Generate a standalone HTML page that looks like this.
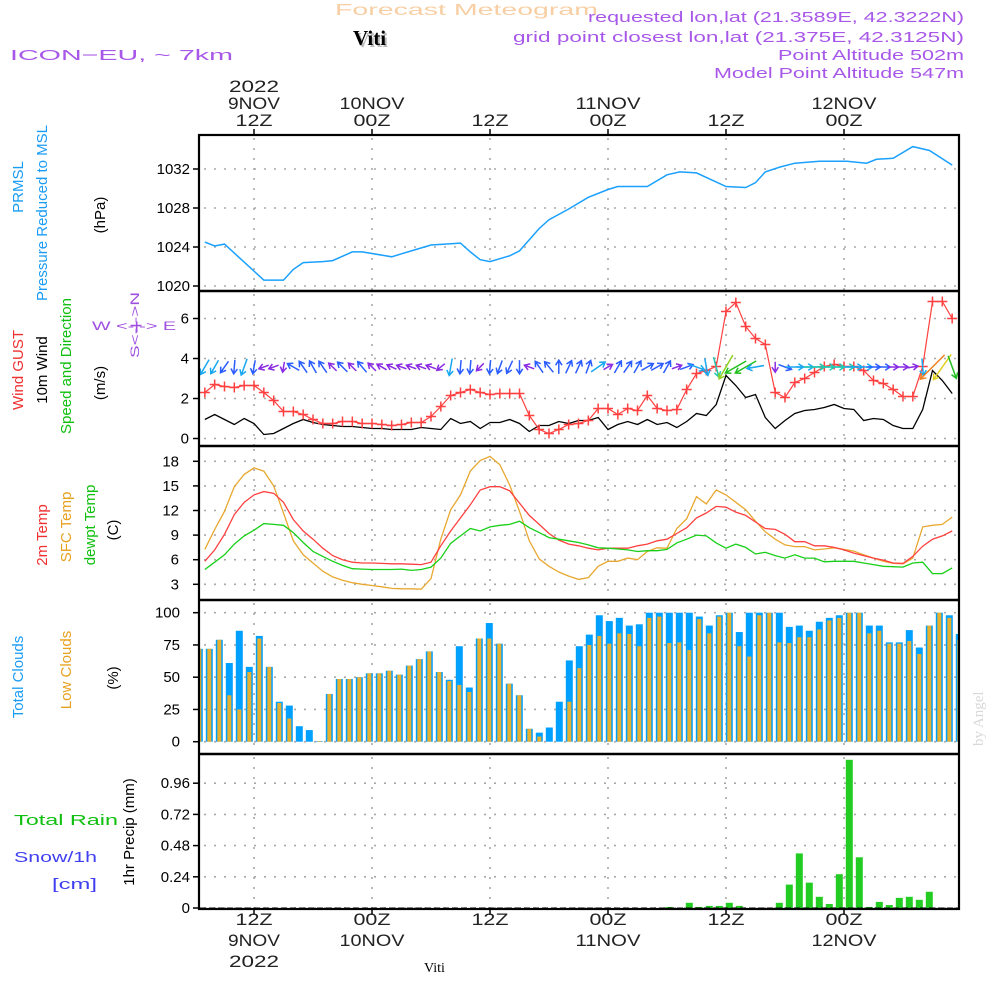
<!DOCTYPE html>
<html><head><meta charset="utf-8"><title>Viti Meteogram</title>
<style>
html,body{margin:0;padding:0;background:#fff;}
svg{display:block;font-family:"Liberation Sans",sans-serif;}
</style></head>
<body>
<svg id="chart" width="1000" height="1000" viewBox="0 0 1000 1000" xmlns="http://www.w3.org/2000/svg">
<defs>
<clipPath id="clipAll"><rect x="200" y="136" width="758" height="772"/></clipPath>
</defs>
<rect x="0" y="0" width="1000" height="1000" fill="#fff"/>
<text x="335" y="15" font-size="16" fill="#f8cfa4" textLength="263" lengthAdjust="spacingAndGlyphs">Forecast Meteogram</text>
<text x="355" y="47" font-family="Liberation Serif, serif" font-weight="bold" font-size="21" fill="#bbb">Viti</text>
<text x="353" y="45" font-family="Liberation Serif, serif" font-weight="bold" font-size="21" fill="#000">Viti</text>
<text x="10" y="60" font-size="15" fill="#a858e8" textLength="223" lengthAdjust="spacingAndGlyphs">ICON−EU, ~ 7km</text>
<g font-size="14.5" fill="#a858e8" text-anchor="end">
<text x="964" y="22" textLength="376" lengthAdjust="spacingAndGlyphs">requested lon,lat (21.3589E, 42.3222N)</text>
<text x="964" y="42" textLength="451" lengthAdjust="spacingAndGlyphs">grid point closest lon,lat (21.375E, 42.3125N)</text>
<text x="964" y="60" textLength="186" lengthAdjust="spacingAndGlyphs">Point Altitude 502m</text>
<text x="964" y="78" textLength="250" lengthAdjust="spacingAndGlyphs">Model Point Altitude 547m</text>
</g>
<g font-size="15" text-anchor="middle">
<text transform="translate(23,187) rotate(-90)" fill="#1a9cf5">PRMSL</text>
<text transform="translate(47,213) rotate(-90)" fill="#1a9cf5">Pressure Reduced to MSL</text>
<text transform="translate(105,215) rotate(-90)" fill="#000">(hPa)</text>
<text transform="translate(23,370) rotate(-90)" fill="#f03030">Wind GUST</text>
<text transform="translate(47,370) rotate(-90)" fill="#000">10m Wind</text>
<text transform="translate(71,366) rotate(-90)" fill="#10c010">Speed and Direction</text>
<text transform="translate(105,383) rotate(-90)" fill="#000">(m/s)</text>
<text transform="translate(47,535) rotate(-90)" fill="#f03030">2m Temp</text>
<text transform="translate(71,527) rotate(-90)" fill="#e8a020">SFC Temp</text>
<text transform="translate(95,525) rotate(-90)" fill="#10c010">dewpt Temp</text>
<text transform="translate(118,530) rotate(-90)" fill="#000">(C)</text>
<text transform="translate(23,677) rotate(-90)" fill="#1a9cf5">Total Clouds</text>
<text transform="translate(71,670) rotate(-90)" fill="#e8a020">Low Clouds</text>
<text transform="translate(118,678) rotate(-90)" fill="#000">(%)</text>
<text transform="translate(134,832) rotate(-90)" fill="#000">1hr Precip (mm)</text>
</g>
<g font-size="15">
<text x="14" y="825" fill="#10c010" textLength="104" lengthAdjust="spacingAndGlyphs">Total  Rain</text>
<text x="14" y="862" fill="#4040f0" textLength="83" lengthAdjust="spacingAndGlyphs">Snow/1h</text>
<text x="52" y="889" fill="#4040f0" textLength="45" lengthAdjust="spacingAndGlyphs">[cm]</text>
</g>
<g font-size="12" fill="#a050e0">
<text x="92" y="330" textLength="84" lengthAdjust="spacingAndGlyphs">W &lt;-|-&gt; E</text>
<text transform="translate(139,358) rotate(-90)" textLength="66" lengthAdjust="spacingAndGlyphs">S&lt;-|-&gt;N</text>
</g>
<text transform="translate(983,746) rotate(-90)" font-family="Liberation Serif, serif" font-size="15" fill="#d8d8d8">by Angel</text>
<text x="424" y="972" font-family="Liberation Serif, serif" font-size="14" fill="#000">Viti</text>
<g id="grid"></g>
<g id="marks" clip-path="url(#clipAll)"></g>
<g id="arrows"></g>
<g id="axes"></g>
</svg>
<script>
const presHours = [7,8,9,13,15,16,17,19,20,22,23,26,27,28,30,33,34,35,36,38,39,41,42,44,46,48,49,52,54,55.3,57,60,62,63,64,65.5,67,69.5,72.3,74.3,75.3,77,79,80.7,83];
const presVals = [1024.5,1024.1,1024.3,1020.6,1020.6,1021.7,1022.4,1022.5,1022.6,1023.5,1023.5,1023.0,1023.3,1023.6,1024.2,1024.4,1023.5,1022.7,1022.5,1023.1,1023.6,1025.9,1026.8,1027.9,1029.1,1029.9,1030.2,1030.2,1031.4,1031.7,1031.6,1030.2,1030.1,1030.6,1031.7,1032.2,1032.6,1032.8,1032.8,1032.6,1033.0,1033.1,1034.3,1033.9,1032.4];
const startHour = 7;
const gustVals = [2.3,2.7,2.6,2.55,2.65,2.65,2.3,1.9,1.35,1.35,1.2,0.95,0.75,0.75,0.85,0.85,0.75,0.75,0.7,0.65,0.7,0.8,0.8,1.1,1.6,2.15,2.3,2.45,2.3,2.2,2.25,2.25,2.25,1.15,0.45,0.25,0.45,0.7,0.75,0.9,1.5,1.5,1.2,1.5,1.4,2.15,1.5,1.4,1.45,2.45,3.25,3.4,3.6,6.35,6.8,5.6,5.0,4.7,2.3,2.05,2.8,3.0,3.3,3.6,3.7,3.6,3.6,3.4,2.9,2.75,2.45,2.1,2.1,3.6,6.85,6.85,6.0];
const windVals = [0.95,1.2,0.95,0.7,1.0,0.75,0.2,0.25,0.5,0.75,0.95,0.8,0.7,0.65,0.6,0.6,0.55,0.5,0.5,0.45,0.45,0.45,0.55,0.5,0.45,1.0,0.75,0.85,0.5,0.8,0.8,0.95,0.75,0.35,0.65,0.65,0.85,0.75,0.9,0.9,1.05,0.45,0.7,0.85,0.7,0.95,0.7,0.8,0.55,0.85,1.25,1.15,1.7,3.15,2.65,2.05,2.2,1.05,0.5,0.9,1.25,1.4,1.45,1.55,1.7,1.5,1.45,0.9,1.0,0.95,0.65,0.5,0.5,1.45,3.4,2.9,2.25];
const windDirs = [240,240,235,265,250,260,200,200,260,150,125,120,125,135,135,135,130,135,150,155,160,160,160,160,220,260,265,265,225,265,250,245,270,160,125,130,90,65,65,70,35,30,60,55,60,30,30,60,20,20,-20,-80,-75,240,210,210,190,0,270,-20,0,0,0,0,0,0,0,0,0,0,0,0,10,-85,225,235,-70];
const windClass = [3,2.5,2,2,3,2,1,1,1,2,2,2,2,1.2,2,1.2,2,1.2,1.2,1,1,1,1,1,1,3,2,2,1,2,2,2,2,1,2,2,2,2,2,2,3,1,2,2,2,2,2,2,1,2,3,3,4,6,5,5,3,0,1,2,3,3,4,4,4,4,3,3,2,2,1,1,1,3,8,7,5];
const t2mVals = [5.8,7.2,9.1,11.5,13.0,13.9,14.3,14.1,13.0,10.9,9.5,8.5,7.4,6.5,6.0,5.7,5.6,5.6,5.55,5.5,5.5,5.45,5.4,5.7,7.7,9.5,11.1,12.7,14.5,14.9,14.9,14.4,12.9,11.4,10.3,9.2,8.4,7.9,7.7,7.4,7.2,7.4,7.4,7.4,7.7,7.9,8.3,8.5,9.2,9.9,11.1,11.7,12.5,12.4,11.8,11.4,10.6,9.8,9.7,9.1,8.2,8.2,7.7,7.7,7.5,7.2,6.8,6.5,6.2,5.95,5.6,5.55,6.4,7.65,8.5,8.9,9.5];
const sfcVals = [7.25,9.7,11.9,14.9,16.4,17.2,16.8,15.0,11.7,8.3,6.6,5.6,4.6,3.9,3.5,3.2,3.0,2.85,2.7,2.5,2.45,2.45,2.4,3.7,8.5,12.1,13.9,16.8,18.1,18.6,17.6,15.1,11.9,8.3,6.1,5.2,4.5,4.0,3.6,3.8,5.2,5.8,5.8,6.2,6.0,7.0,7.45,7.4,9.8,11.0,13.7,12.8,14.5,13.9,13.0,12.1,10.7,9.4,8.5,7.8,7.6,7.6,7.2,7.3,7.45,7.25,7.05,6.6,6.2,5.8,5.55,5.5,6.2,10.0,10.2,10.3,11.2];
const dewVals = [4.8,5.7,6.6,7.9,8.9,9.6,10.4,10.3,10.2,9.3,8.1,7.0,6.4,5.8,5.3,4.9,4.85,4.8,4.8,4.8,4.85,4.7,4.8,5.1,6.2,8.0,8.9,9.8,9.5,10.0,10.2,10.3,10.7,9.9,9.3,8.7,8.5,8.3,8.1,7.8,7.45,7.4,7.3,7.2,7.0,7.1,7.1,7.25,8.05,8.5,9.0,8.9,8.05,7.4,7.9,7.5,6.7,6.9,6.5,6.2,6.6,6.2,6.2,5.75,5.8,5.8,5.8,5.6,5.4,5.2,5.15,5.1,5.6,5.7,4.3,4.3,5.0];
const totalCloud = [72,72,79,61,86,58,82,58,31,28,12,9,0.5,37,48.6,48.6,50,53,53,55,52,59,64,70,54,48,74,42,80,92,76,45,36,10,7,11,31,63,74,83,98,93.5,96,90,91,100,100,100,100,100,97,90,98,100,85,100,100,100,100,89,90,86,93,96,98,100,100,90,90,77,77,86.5,73,90,100,98,83.5];
const lowCloud = [72,72,79,36,25,54,80,58,30,18,0,0,0.5,37,48.6,48.6,50,53,53,55,52,59,64,70,54,47,44,38.5,80,80,76,45,36,10,4,0,0,31,57,75,82,76,84,83.5,74,96,97,76.5,77,71,95,84,97,100,74,66,98,100,77,76.5,81,81,87,94,96,100,100,84,86,76,76,78,68,90,100,96,79];
const precipVals = [0,0,0,0,0,0,0,0,0,0,0,0,0,0,0,0,0,0,0,0,0,0,0,0,0,0,0,0,0,0,0,0,0,0,0,0,0,0,0,0,0,0,0,0,0,0,0,0.008,0,0.04,0.008,0.016,0.016,0.04,0.016,0,0,0,0.04,0.18,0.42,0.195,0.086,0.031,0.26,1.14,0.39,0.008,0.047,0.023,0.078,0.086,0.063,0.125,0,0,0];
const presTicks = [1020,1024,1028,1032];
const windTicks = [0,2,4,6];
const tempTicks = [3,6,9,12,15,18];
const cloudTicks = [0,25,50,75,100];
const precipTicks = [0,0.24,0.48,0.72,0.96];
const precipTickLabels = ["0","0.24","0.48","0.72","0.96"];
const timeHours = [12,24,36,48,60,72];
const timeTopHour = ["12Z","00Z","12Z","00Z","12Z","00Z"];
const timeDay = ["9NOV","10NOV","","11NOV","","12NOV"];

const X = h => 254 + (h - 12) * 9.8333;
const barX = i => 199.3 + i * 10;
const yP = v => 286 - (v - 1020) * 9.75;
const yW = v => 438.5 - v * 20.0;
const yT = v => 584.3 - (v - 3) * 8.2;
const yC = v => 741.7 - v * 1.29;
const yR = v => 908 - v * 130;
const NS = "http://www.w3.org/2000/svg";
function mk(parent, tag, attrs) {
  const e = document.createElementNS(NS, tag);
  for (const k in attrs) e.setAttribute(k, attrs[k]);
  parent.appendChild(e);
  return e;
}
const grid = document.getElementById('grid');
const marks = document.getElementById('marks');
const arrowsG = document.getElementById('arrows');
const axes = document.getElementById('axes');
const L = 200, R = 958;
const panels = [
  {top:136, bot:290, ticks:presTicks, f:yP, labels:presTicks.map(String), lx:190, name:'pressure'},
  {top:292, bot:445, ticks:windTicks, f:yW, labels:windTicks.map(String), lx:189, name:'wind'},
  {top:447, bot:599, ticks:tempTicks, f:yT, labels:tempTicks.map(String), lx:179, name:'temp'},
  {top:601, bot:753, ticks:cloudTicks, f:yC, labels:cloudTicks.map(String), lx:180, name:'clouds'},
  {top:755, bot:908, ticks:precipTicks, f:yR, labels:precipTickLabels, lx:190, name:'precip'}
];
panels.forEach(p => {
  p.ticks.forEach((t, k) => {
    const y = p.f(t);
    const g = mk(grid, 'line', {x1:L+4, x2:R, y1:y, y2:y, stroke:'#a8a8a8', 'stroke-width':1.6, 'stroke-dasharray':'2,8'});
    
    
    const tk = mk(axes, 'line', {x1:193, x2:L, y1:y, y2:y, stroke:'#000', 'stroke-width':1.5});
    
    
    const tl = mk(axes, 'text', {x:p.lx, y:y+5, 'text-anchor':'end', 'font-size':15, fill:'#000'});
    tl.textContent = p.labels[k];
    
    
  });
  timeHours.forEach(h => {
    const vg = mk(grid, 'line', {x1:X(h), x2:X(h), y1:p.top+2, y2:p.bot, stroke:'#a8a8a8', 'stroke-width':1.6, 'stroke-dasharray':'2,8'});
    
    
  });
});
timeHours.forEach((h, k) => {
  const x = X(h);
  const t1 = mk(axes, 'line', {x1:x, x2:x, y1:129, y2:136, stroke:'#000', 'stroke-width':1.5});
  
  
  const t2 = mk(axes, 'line', {x1:x, x2:x, y1:908, y2:915, stroke:'#000', 'stroke-width':1.5});
  
  
  const a = mk(axes, 'text', {x:x, y:126, 'text-anchor':'middle', 'font-size':17, fill:'#222', textLength:37, lengthAdjust:'spacingAndGlyphs'});
  a.textContent = timeTopHour[k];
  
  
  const b = mk(axes, 'text', {x:x, y:925, 'text-anchor':'middle', 'font-size':17, fill:'#222', textLength:37, lengthAdjust:'spacingAndGlyphs'});
  b.textContent = timeTopHour[k];
  
  
  if (timeDay[k]) {
    const n = timeDay[k].length;
    const c = mk(axes, 'text', {x:x, y:109, 'text-anchor':'middle', 'font-size':17, fill:'#222', textLength:n*13, lengthAdjust:'spacingAndGlyphs'});
    c.textContent = timeDay[k];
    
    
    const d = mk(axes, 'text', {x:x, y:946, 'text-anchor':'middle', 'font-size':17, fill:'#222', textLength:n*13, lengthAdjust:'spacingAndGlyphs'});
    d.textContent = timeDay[k];
    
    
  }
});
const yr1 = mk(axes, 'text', {x:X(12), y:92, 'text-anchor':'middle', 'font-size':17, fill:'#222', textLength:50, lengthAdjust:'spacingAndGlyphs'});
yr1.textContent = '2022';


const yr2 = mk(axes, 'text', {x:X(12), y:967, 'text-anchor':'middle', 'font-size':17, fill:'#222', textLength:50, lengthAdjust:'spacingAndGlyphs'});
yr2.textContent = '2022';



function poly(pts) { return pts.map(p => p[0].toFixed(1) + ',' + p[1].toFixed(1)).join(' '); }
totalCloud.forEach((v, i) => {
  const r = mk(marks, 'rect', {x:barX(i)-3.5, y:yC(v), width:7, height:yC(0)-yC(v), fill:'#00a0ff'});
  
  
});
lowCloud.forEach((v, i) => {
  const r = mk(marks, 'rect', {x:barX(i)-2, y:yC(v), width:4, height:yC(0)-yC(v), fill:'#e8b030'});
  
  
});
precipVals.forEach((v, i) => {
  if (v <= 0) return;
  const r = mk(marks, 'rect', {x:barX(i)-3.5, y:yR(v), width:7, height:yR(0)-yR(v), fill:'#22cc22'});
  
  
});
const base = mk(marks, 'line', {x1:L, x2:R, y1:yR(0), y2:yR(0), stroke:'#000', 'stroke-width':1, 'stroke-dasharray':'6,3'});


const pl = mk(marks, 'polyline', {points:poly(presHours.map((h, i) => [X(h), yP(presVals[i])])), fill:'none', stroke:'#1aa0ff', 'stroke-width':1.5});


const wl = mk(marks, 'polyline', {points:poly(windVals.map((v, i) => [X(startHour+i), yW(v)])), fill:'none', stroke:'#000', 'stroke-width':1.3});


const gl = mk(marks, 'polyline', {points:poly(gustVals.map((v, i) => [X(startHour+i), yW(v)])), fill:'none', stroke:'#ff4040', 'stroke-width':1.2});


gustVals.forEach((v, i) => {
  const x = X(startHour+i), y = yW(v);
  const m = mk(marks, 'path', {d:`M${x-5},${y}H${x+5}M${x},${y-5}V${y+5}`, stroke:'#ff4040', 'stroke-width':1.5});
  
  
});
const tl1 = mk(marks, 'polyline', {points:poly(sfcVals.map((v, i) => [X(startHour+i), yT(v)])), fill:'none', stroke:'#e8a830', 'stroke-width':1.3});


const tl2 = mk(marks, 'polyline', {points:poly(t2mVals.map((v, i) => [X(startHour+i), yT(v)])), fill:'none', stroke:'#ff4040', 'stroke-width':1.3});


const tl3 = mk(marks, 'polyline', {points:poly(dewVals.map((v, i) => [X(startHour+i), yT(v)])), fill:'none', stroke:'#18d018', 'stroke-width':1.3});


const arrowColors = ['#8a2be2','#8a2be2','#2a5cff','#18a8f0','#20c8b0','#20c020','#90d020','#e0d020','#f08020'];
windDirs.forEach((d, i) => {
  const s = windClass[i];
  if (s <= 0) return;
  const len = 7 + s * 3.4;
  const a = d * Math.PI / 180;
  const cx = X(startHour+i), cy = 367;
  const dx = Math.cos(a), dy = -Math.sin(a);
  const x1 = cx - dx*len/2, y1 = cy - dy*len/2, x2 = cx + dx*len/2, y2 = cy + dy*len/2;
  const h = 6, b1 = a + Math.PI*0.82, b2 = a - Math.PI*0.82;
  const col = arrowColors[Math.min(8, Math.round(s))];
  const ar = mk(arrowsG, 'path', {d:`M${x1.toFixed(1)},${y1.toFixed(1)}L${x2.toFixed(1)},${y2.toFixed(1)}M${(x2+Math.cos(b1)*h).toFixed(1)},${(y2-Math.sin(b1)*h).toFixed(1)}L${x2.toFixed(1)},${y2.toFixed(1)}L${(x2+Math.cos(b2)*h).toFixed(1)},${(y2-Math.sin(b2)*h).toFixed(1)}`, stroke:col, 'stroke-width':1.5, fill:'none'});
  
  
});
const fr = mk(axes, 'rect', {x:L-1, y:135, width:R-L+2, height:774, fill:'none', stroke:'#000', 'stroke-width':2.2});


[291, 446, 600, 754].forEach(y => {
  const s = mk(axes, 'line', {x1:L-1, x2:R+1, y1:y, y2:y, stroke:'#000', 'stroke-width':2.5});
  
  
});
</script>
</body></html>
